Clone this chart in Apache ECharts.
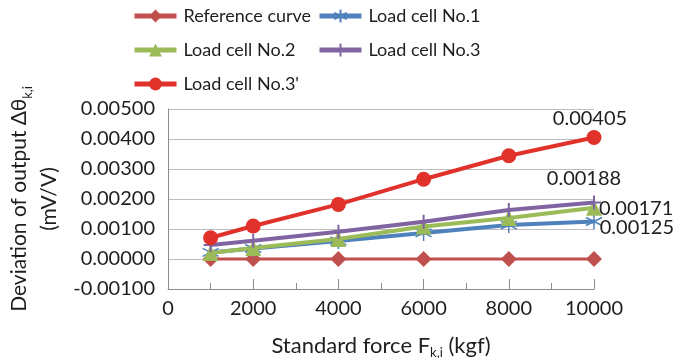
<!DOCTYPE html>
<html>
<head>
<meta charset="utf-8">
<script src="https://cdn.jsdelivr.net/npm/echarts@6/dist/echarts.min.js"></script>
<style>
  html, body { margin: 0; padding: 0; background: #fff; }
  #chart { width: 675px; height: 358px; }
</style>
</head>
<body>
<div id="chart"></div>
<script>
// Standard force steps (kgf)
const forces = [1000, 2000, 4000, 6000, 8000, 10000];

// Output deviation per load cell (mV/V)
const referenceCurve = [0, 0, 0, 0, 0, 0];
const loadCell1 = [0.00022, 0.00035, 0.00060, 0.00087, 0.00113, 0.00125];
const loadCell2 = [0.00020, 0.00037, 0.00067, 0.00108, 0.00137, 0.00171];
const loadCell3 = [0.00047, 0.00061, 0.00091, 0.00124, 0.00163, 0.00188];
const loadCell3p = [0.00071, 0.00110, 0.00182, 0.00266, 0.00344, 0.00405];

const seriesNames = ['Reference curve', 'Load cell No.1', 'Load cell No.2', 'Load cell No.3', "Load cell No.3'"];

const FONT = 'Lato';
const TEXT = '#1e1e1e';
const asterisk = 'path://M0,-10L0,10M-8.7,-5L8.7,5M-8.7,5L8.7,-5';
const plus = 'path://M0,-10L0,10M-10,0L10,0';

// Pair values with forces; optionally label the last point
function pairs(values, lastLabel) {
  return values.map((v, i) => {
    const item = { value: [forces[i], v] };
    if (lastLabel && i === values.length - 1) {
      item.label = Object.assign({
        show: true,
        formatter: v.toFixed(5),
        fontFamily: FONT,
        fontSize: 20,
        color: TEXT
      }, lastLabel);
    }
    return item;
  });
}

const chart = echarts.init(document.getElementById('chart'), null, { renderer: 'canvas' });

const legendBase = {
  orient: 'vertical', top: 2,
  itemWidth: 42, itemHeight: 16, itemGap: 16,
  textStyle: { fontFamily: FONT, fontSize: 18, color: TEXT, padding: [0, 0, 0, 2] },
  lineStyle: { width: 5 }
};

chart.setOption({
  animation: false,
  backgroundColor: '#fff',
  grid: { left: 168, right: 81, top: 109, bottom: 69, containLabel: false, outerBoundsMode: 'none' },
  legend: [
    Object.assign({ data: [seriesNames[0], seriesNames[2], seriesNames[4]], left: 127 }, legendBase),
    Object.assign({ data: [seriesNames[1], seriesNames[3]], left: 312 }, legendBase)
  ],
  xAxis: {
    type: 'value', min: 0, max: 10000, interval: 2000,
    name: '{a|Standard force F}{s|k,i}{a| (kgf)}',
    nameLocation: 'middle', nameGap: 44,
    nameTextStyle: {
      rich: {
        a: { fontFamily: FONT, fontSize: 22, color: TEXT, lineHeight: 26 },
        s: { fontFamily: FONT, fontSize: 13, color: TEXT, verticalAlign: 'bottom', lineHeight: 14 }
      }
    },
    axisLine: { show: true, onZero: false, lineStyle: { color: '#8c8c8c', width: 1 } },
    axisTick: { show: true, inside: true, length: 10, lineStyle: { color: '#8c8c8c' } },
    minorTick: { show: true, splitNumber: 2, length: 6, lineStyle: { color: '#8c8c8c' } },
    splitLine: { show: false },
    axisLabel: {
      fontFamily: FONT, fontSize: 20, color: TEXT, margin: 10,
      formatter: v => String(v)
    }
  },
  yAxis: {
    type: 'value', min: -0.001, max: 0.005, interval: 0.001,
    name: '{a|Deviation of output Δθ}{s|k,i}\n{a|(mV/V)}',
    nameLocation: 'middle', nameGap: 104, nameRotate: 90,
    nameTextStyle: {
      align: 'center',
      rich: {
        a: { fontFamily: FONT, fontSize: 21, color: TEXT, lineHeight: 30, align: 'center' },
        s: { fontFamily: FONT, fontSize: 13, color: TEXT, verticalAlign: 'bottom', lineHeight: 20 }
      }
    },
    axisLine: { show: true, lineStyle: { color: '#8c8c8c', width: 1 } },
    axisTick: { show: false },
    splitLine: { show: true, lineStyle: { color: '#bdbdbd', width: 1 } },
    axisLabel: {
      fontFamily: FONT, fontSize: 20, color: TEXT, margin: 13,
      formatter: v => v.toFixed(5)
    }
  },
  series: [
    {
      name: seriesNames[0], type: 'line', data: pairs(referenceCurve),
      symbol: 'diamond', symbolSize: 16,
      lineStyle: { color: '#C0504D', width: 3 },
      itemStyle: { color: '#C0504D' }, z: 2
    },
    {
      name: seriesNames[1], type: 'line',
      data: pairs(loadCell1, { position: 'right', distance: 0, offset: [-3, 6] }),
      symbol: asterisk, symbolSize: 16,
      lineStyle: { color: '#4F81BD', width: 4 },
      itemStyle: { color: '#4F81BD', borderColor: '#4F81BD', borderWidth: 1.5 }, z: 3
    },
    {
      name: seriesNames[2], type: 'line',
      data: pairs(loadCell2, { position: 'right', distance: 0, offset: [-3, 1] }),
      symbol: 'triangle', symbolSize: 16,
      lineStyle: { color: '#9BBB59', width: 4 },
      itemStyle: { color: '#9BBB59' }, z: 4
    },
    {
      name: seriesNames[3], type: 'line',
      data: pairs(loadCell3, { position: 'top', distance: 6, offset: [-10, 0] }),
      symbol: plus, symbolSize: 14,
      lineStyle: { color: '#8064A2', width: 4 },
      itemStyle: { color: '#8064A2', borderColor: '#8064A2', borderWidth: 2 }, z: 5
    },
    {
      name: seriesNames[4], type: 'line',
      data: pairs(loadCell3p, { position: 'top', distance: 1, offset: [-4, 0] }),
      symbol: 'circle', symbolSize: 15,
      lineStyle: { color: '#E0312A', width: 4 },
      itemStyle: { color: '#E0312A' }, z: 6
    }
  ]
});
</script>
</body>
</html>
